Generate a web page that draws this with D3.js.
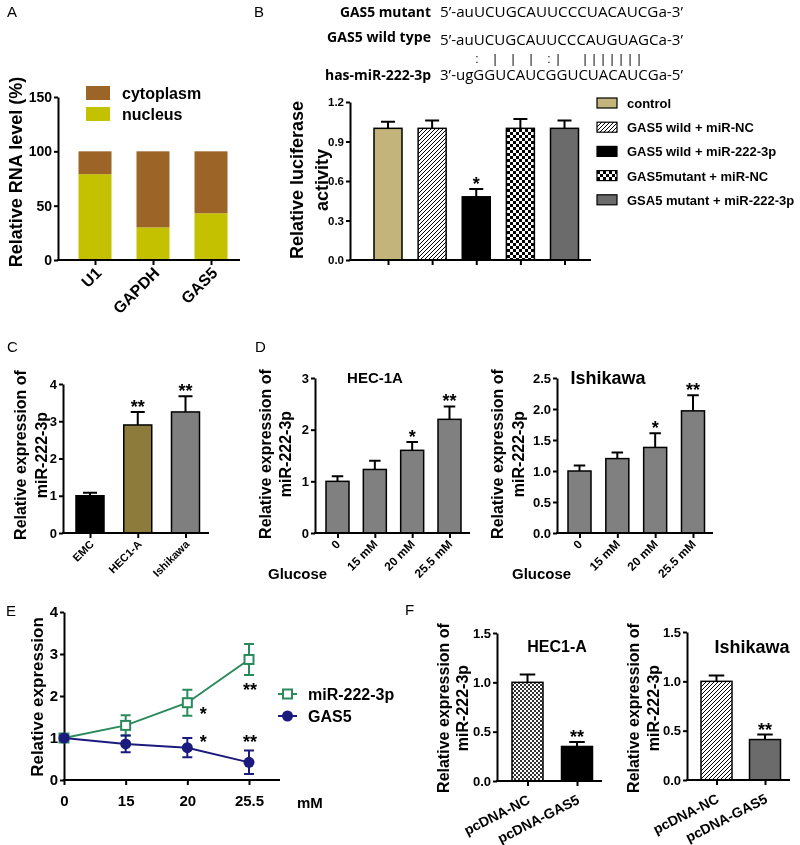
<!DOCTYPE html>
<html>
<head>
<meta charset="utf-8">
<title>GAS5 / miR-222-3p</title>
<script src="https://cdnjs.cloudflare.com/ajax/libs/d3/7.8.5/d3.min.js"></script>
<style>
body { margin: 0; background: #fff; }
svg { display: block; font-family: "Liberation Sans", Arial, sans-serif; will-change: transform; }
.axis path, .axis line { stroke: #000; stroke-width: 2px; }
.axis text { font-weight: bold; fill: #000; font-family: "Liberation Sans", Arial, sans-serif; }
.plabel { font-size: 15px; }
.bold { font-weight: bold; }
.seq { font-family: "Open Sans", "Noto Sans", sans-serif; font-size: 14px; }
</style>
</head>
<body>
<script>
// ---- data ----
// A: subcellular fractions (%)
var aGenes = ["U1", "GAPDH", "GAS5"];
var aNucleus = [79, 30, 43];
var aCytoplasm = [21, 70, 57];

// B: luciferase
var bGroups = ["control", "GAS5 wild + miR-NC", "GAS5 wild + miR-222-3p", "GAS5mutant + miR-NC", "GSA5 mutant + miR-222-3p"];
var bValues = [1.0, 1.0, 0.48, 1.0, 1.0];
var bErrors = [0.05, 0.06, 0.06, 0.07, 0.06];
var bStars = ["", "", "*", "", ""];
var seqNames = ["GAS5 mutant", "GAS5 wild type", "has-miR-222-3p"];
var seqs = ["5\u2019-auUCUGCAUUCCCUACAUCGa-3\u2019", "5\u2019-auUCUGCAUUCCCAUGUAGCa-3\u2019", "3\u2019-ugGGUCAUCGGUCUACAUCGa-5\u2019"];
// pairing marks, one character per sequence position
var pairLine = "    : | | | :|  |||||||";

// C: cell lines
var cCells = ["EMC", "HEC1-A", "Ishikawa"];
var cValues = [1.0, 2.9, 3.25];
var cErrors = [0.08, 0.35, 0.42];
var cStars = ["", "**", "**"];

// D: glucose
var glucose = ["0", "15 mM", "20 mM", "25.5 mM"];
var dHecValues = [1.0, 1.23, 1.6, 2.2];
var dHecErrors = [0.1, 0.17, 0.16, 0.25];
var dIshValues = [1.0, 1.2, 1.38, 1.97];
var dIshErrors = [0.09, 0.1, 0.23, 0.25];
var dStars = ["", "", "*", "**"];

// E: expression vs glucose
var eDoses = ["0", "15", "20", "25.5"];
var eMir = [1.0, 1.3, 1.84, 2.87];
var eMirErr = [0.05, 0.24, 0.31, 0.37];
var eGas5 = [1.0, 0.86, 0.77, 0.42];
var eGas5Err = [0.05, 0.2, 0.23, 0.28];
var eMirStars = ["", "", "*", "**"];
var eGas5Stars = ["", "", "*", "**"];

// F: overexpression
var fGroups = ["pcDNA-NC", "pcDNA-GAS5"];
var fHecValues = [1.0, 0.35];
var fHecErrors = [0.08, 0.045];
var fIshValues = [1.0, 0.41];
var fIshErrors = [0.06, 0.05];
var fStars = ["", "**"];

var svg = d3.select("body").append("svg").attr("width", 800).attr("height", 845);
svg.append("rect").attr("width", 800).attr("height", 845).attr("fill", "#fff");
var defs = svg.append("defs");

// fill patterns
var hatch = defs.append("pattern").attr("id", "hatch").attr("patternUnits", "userSpaceOnUse").attr("width", 4).attr("height", 4);
hatch.append("rect").attr("width", 4).attr("height", 4).attr("fill", "#fff");
hatch.append("path").attr("d", "M-1,1L1,-1M0,4L4,0M3,5L5,3").attr("stroke", "#000").attr("stroke-width", 1);

function checker(id, c, col) {
  var p = defs.append("pattern").attr("id", id).attr("patternUnits", "userSpaceOnUse").attr("width", 2 * c).attr("height", 2 * c);
  p.append("rect").attr("width", 2 * c).attr("height", 2 * c).attr("fill", "#fff");
  p.append("rect").attr("width", c).attr("height", c).attr("fill", col);
  p.append("rect").attr("x", c).attr("y", c).attr("width", c).attr("height", c).attr("fill", col);
}
checker("check", 3, "#000");
checker("fine", 2, "#333");

function panelLetter(t, x, y) {
  svg.append("text").attr("class", "plabel").attr("x", x).attr("y", y).text(t);
}

function yLabel(lines, xs, cy, size) {
  lines.forEach(function(t, i) {
    svg.append("text")
      .attr("transform", "translate(" + xs[i] + "," + cy + ") rotate(-90)")
      .attr("text-anchor", "middle").attr("dy", "0.35em")
      .attr("class", "bold").style("font-size", size + "px")
      .text(t);
  });
}

function barPanel(o) {
  var g = svg.append("g");
  var y = d3.scaleLinear().domain([0, o.max]).range([o.base, o.top]);
  var x = d3.scalePoint().domain(o.cats).range(o.centers);

  if (o.values) {
    g.selectAll(".bar").data(o.values).join("rect")
      .attr("x", function(d, i) { return x(o.cats[i]) - o.bw / 2; })
      .attr("y", function(d) { return y(d); })
      .attr("width", o.bw)
      .attr("height", function(d) { return o.base - y(d); })
      .attr("fill", function(d, i) { return o.fills[i]; })
      .attr("stroke", "#000").attr("stroke-width", 1.5);

    // upper error bars
    o.values.forEach(function(v, i) {
      var cx = x(o.cats[i]), yt = y(v + o.errors[i]);
      g.append("path")
        .attr("d", "M" + cx + "," + y(v) + "V" + yt + "M" + (cx - o.bw / 4) + "," + yt + "H" + (cx + o.bw / 4))
        .attr("stroke", "#000").attr("stroke-width", 2).attr("fill", "none");
      if (o.stars && o.stars[i]) {
        g.append("text").attr("x", cx).attr("y", yt + 1)
          .attr("text-anchor", "middle").attr("class", "bold").style("font-size", "18px")
          .text(o.stars[i]);
      }
    });
  }

  var ya = g.append("g").attr("class", "axis").attr("transform", "translate(" + o.x0 + ",0)")
    .call(d3.axisLeft(y).tickValues(o.ticks).tickFormat(o.fmt).tickSize(4).tickSizeOuter(0).tickPadding(2));
  ya.selectAll("text").style("font-size", o.tickFont + "px");

  var xa = g.append("g").attr("class", "axis").attr("transform", "translate(0," + o.base + ")")
    .call(d3.axisBottom(x).tickSize(5).tickSizeOuter(0));
  xa.select(".domain").attr("d", "M" + (o.x0 - 1) + ",0H" + o.x1);
  if (o.labRot === null) {
    xa.selectAll(".tick text").remove();
  } else {
    xa.selectAll(".tick text")
      .attr("x", 0).attr("y", 0).attr("dy", 0)
      .attr("text-anchor", "end")
      .attr("transform", "translate(" + o.labDx + "," + o.labDy + ") rotate(" + o.labRot + ")")
      .style("font-size", o.labFont + "px");
  }
  return { x: x, y: y, g: g };
}

// ---------- A ----------
panelLetter("A", 7, 17);
var aRows = aGenes.map(function(gn, i) { return { gene: gn, nucleus: aNucleus[i], cytoplasm: aCytoplasm[i] }; });
var aStack = d3.stack().keys(["nucleus", "cytoplasm"])(aRows);
var aColors = { nucleus: "#C4C200", cytoplasm: "#9C6426" };
var A = barPanel({ cats: aGenes, x0: 58, x1: 240, base: 260, top: 97, max: 150,
  ticks: [0, 50, 100, 150], fmt: d3.format("d"), centers: [95, 211], bw: 33, tickFont: 14,
  labRot: -45, labDx: 7, labDy: 14, labFont: 16 });
A.g.selectAll(".layer").data(aStack).join("g").attr("fill", function(d) { return aColors[d.key]; })
  .selectAll("rect").data(function(d) { return d; }).join("rect")
  .attr("x", function(d) { return A.x(d.data.gene) - 16.5; })
  .attr("y", function(d) { return A.y(d[1]); })
  .attr("width", 33)
  .attr("height", function(d) { return A.y(d[0]) - A.y(d[1]); });
A.g.selectAll(".axis").raise();
yLabel(["Relative RNA level (%)"], [16], 172, 18);
var aLeg = svg.append("g");
["cytoplasm", "nucleus"].forEach(function(k, i) {
  aLeg.append("rect").attr("x", 86).attr("y", 86 + i * 21).attr("width", 24).attr("height", 14).attr("fill", aColors[k]);
  aLeg.append("text").attr("x", 122).attr("y", 99 + i * 21).attr("class", "bold").style("font-size", "16px").text(k);
});

// ---------- B ----------
panelLetter("B", 254, 17);
var seqG = svg.append("g");
var seqStart = 440, charW = 9;
var seqY = [17, 45, 80];
var labY = [17, 42, 80];
var labW = [91, 104, 106];
seqNames.forEach(function(nm, i) {
  seqG.append("text").attr("class", "seq bold").attr("x", 431).attr("y", labY[i]).attr("text-anchor", "end")
    .attr("textLength", labW[i]).attr("lengthAdjust", "spacingAndGlyphs").text(nm);
  seqG.append("text").attr("class", "seq").attr("x", seqStart).attr("y", seqY[i])
    .attr("textLength", seqs[i].length * charW).attr("lengthAdjust", "spacingAndGlyphs").text(seqs[i]);
});
pairLine.split("").forEach(function(m, i) {
  if (m === " ") return;
  seqG.append("text").attr("x", seqStart + i * charW + 1).attr("y", 63)
    .attr("text-anchor", "middle").style("font-size", "12px").text(m);
});

var bFills = ["#C3B47B", "url(#hatch)", "#000", "url(#check)", "#6B6B6B"];
barPanel({ cats: bGroups, values: bValues, errors: bErrors, stars: bStars, fills: bFills,
  x0: 350, x1: 591, base: 260, top: 102, max: 1.2, ticks: [0, 0.3, 0.6, 0.9, 1.2], fmt: d3.format(".1f"),
  centers: [388, 564.5], bw: 28, tickFont: 11.5, labRot: null });
yLabel(["Relative luciferase", "activity"], [297, 322], 180, 18);
var bLeg = svg.append("g");
bGroups.forEach(function(k, i) {
  var cy = 103 + i * 24.2;
  bLeg.append("rect").attr("x", 597).attr("y", cy - 5).attr("width", 20).attr("height", 10)
    .attr("fill", bFills[i]).attr("stroke", "#000").attr("stroke-width", 1.2);
  bLeg.append("text").attr("x", 627).attr("y", cy + 5).attr("class", "bold").style("font-size", "13px").text(k);
});

// ---------- C ----------
panelLetter("C", 7, 352);
barPanel({ cats: cCells, values: cValues, errors: cErrors, stars: cStars, fills: ["#000", "#8C7B3A", "#7F7F7F"],
  x0: 63, x1: 209, base: 533, top: 384, max: 4, ticks: [0, 1, 2, 3, 4], fmt: d3.format("d"),
  centers: [90, 185.5], bw: 28, tickFont: 13, labRot: -45, labDx: 4, labDy: 12, labFont: 11 });
yLabel(["Relative expression of", "miR-222-3p"], [20, 41], 455, 16);

// ---------- D ----------
panelLetter("D", 255, 352);
barPanel({ cats: glucose, values: dHecValues, errors: dHecErrors, stars: dStars, fills: ["#808080", "#808080", "#808080", "#808080"],
  x0: 315, x1: 470, base: 533, top: 378, max: 3, ticks: [0, 1, 2, 3], fmt: d3.format("d"),
  centers: [337.5, 449.5], bw: 23, tickFont: 13, labRot: -45, labDx: 3, labDy: 12, labFont: 12 });
yLabel(["Relative expression of", "miR-222-3p"], [265, 285], 454, 16);
svg.append("text").attr("x", 375).attr("y", 383).attr("text-anchor", "middle").attr("class", "bold").style("font-size", "15px").text("HEC-1A");
svg.append("text").attr("x", 268).attr("y", 579).attr("class", "bold").style("font-size", "15px").text("Glucose");

barPanel({ cats: glucose, values: dIshValues, errors: dIshErrors, stars: dStars, fills: ["#808080", "#808080", "#808080", "#808080"],
  x0: 557, x1: 713, base: 533, top: 378, max: 2.5, ticks: [0, 0.5, 1, 1.5, 2, 2.5], fmt: d3.format(".1f"),
  centers: [579.5, 693], bw: 23, tickFont: 13, labRot: -45, labDx: 3, labDy: 12, labFont: 12 });
yLabel(["Relative expression of", "miR-222-3p"], [497, 518], 454, 16);
svg.append("text").attr("x", 608).attr("y", 384).attr("text-anchor", "middle").attr("class", "bold").style("font-size", "18px").text("Ishikawa");
svg.append("text").attr("x", 512).attr("y", 579).attr("class", "bold").style("font-size", "15px").text("Glucose");

// ---------- E ----------
panelLetter("E", 6, 616);
var eg = svg.append("g");
var ex = d3.scalePoint().domain(eDoses).range([64, 249]);
var ey = d3.scaleLinear().domain([0, 4]).range([780, 612]);
var eGreen = "#2A8A5C", eNavy = "#1B1B7E";

var eya = eg.append("g").attr("class", "axis").attr("transform", "translate(64,0)")
  .call(d3.axisLeft(ey).ticks(4).tickFormat(d3.format("d")).tickSize(4).tickSizeOuter(0).tickPadding(2));
eya.selectAll("text").style("font-size", "15px");
var exa = eg.append("g").attr("class", "axis").attr("transform", "translate(0,780)")
  .call(d3.axisBottom(ex).tickSize(5).tickSizeOuter(0).tickPadding(10));
exa.select(".domain").attr("d", "M63,0H280");
exa.selectAll("text").style("font-size", "15px");
eg.append("text").attr("x", 297).attr("y", 808).attr("class", "bold").style("font-size", "15px").text("mM");

function eSeries(vals, errs, col, marker) {
  var line = d3.line().x(function(d, i) { return ex(eDoses[i]); }).y(function(d) { return ey(d); });
  eg.append("path").datum(vals).attr("d", line).attr("fill", "none").attr("stroke", col).attr("stroke-width", 2);
  vals.forEach(function(v, i) {
    var cx = ex(eDoses[i]);
    eg.append("path")
      .attr("d", "M" + cx + "," + ey(v - errs[i]) + "V" + ey(v + errs[i]) +
        "M" + (cx - 5) + "," + ey(v - errs[i]) + "H" + (cx + 5) +
        "M" + (cx - 5) + "," + ey(v + errs[i]) + "H" + (cx + 5))
      .attr("stroke", col).attr("stroke-width", 2).attr("fill", "none");
    marker(cx, ey(v));
  });
}
function sq(cx, cy) {
  eg.append("rect").attr("x", cx - 4.5).attr("y", cy - 4.5).attr("width", 9).attr("height", 9)
    .attr("fill", "#fff").attr("stroke", eGreen).attr("stroke-width", 2);
}
function dot(cx, cy) {
  eg.append("circle").attr("cx", cx).attr("cy", cy).attr("r", 5.5).attr("fill", eNavy);
}
eSeries(eMir, eMirErr, eGreen, sq);
eSeries(eGas5, eGas5Err, eNavy, dot);

// significance marks: beside the 20 mM point, under the 25.5 mM point
var starDx = [0, 0, 16, 1];
var mirStarDy = [0, 0, 17, 37];
eMirStars.forEach(function(s, i) {
  if (!s) return;
  eg.append("text").attr("x", ex(eDoses[i]) + starDx[i]).attr("y", ey(eMir[i]) + mirStarDy[i])
    .attr("text-anchor", "middle").attr("class", "bold").style("font-size", "18px").text(s);
});
// GAS5 marks sit at the control level
eGas5Stars.forEach(function(s, i) {
  if (!s) return;
  eg.append("text").attr("x", ex(eDoses[i]) + starDx[i]).attr("y", ey(eGas5[0]) + 10)
    .attr("text-anchor", "middle").attr("class", "bold").style("font-size", "18px").text(s);
});
yLabel(["Relative expression"], [37], 697, 17);

// legend
[["miR-222-3p", eGreen, sq], ["GAS5", eNavy, dot]].forEach(function(r, i) {
  var cy = 694 + i * 22;
  eg.append("line").attr("x1", 278).attr("x2", 297).attr("y1", cy).attr("y2", cy).attr("stroke", r[1]).attr("stroke-width", 2);
  r[2](287.5, cy);
  eg.append("text").attr("x", 308).attr("y", cy + 6).attr("class", "bold").style("font-size", "16px").text(r[0]);
});

// ---------- F ----------
panelLetter("F", 405, 615);
barPanel({ cats: fGroups, values: fHecValues, errors: fHecErrors, stars: fStars, fills: ["url(#fine)", "#000"],
  x0: 497, x1: 602, base: 781, top: 633, max: 1.5, ticks: [0, 0.5, 1, 1.5], fmt: d3.format(".1f"),
  centers: [527.5, 577], bw: 31, tickFont: 13, labRot: -27, labDx: 3, labDy: 22, labFont: 14 });
yLabel(["Relative expression of", "miR-222-3p"], [443, 462], 708, 16);
svg.append("text").attr("x", 557).attr("y", 652).attr("text-anchor", "middle").attr("class", "bold").style("font-size", "16px").text("HEC1-A");

barPanel({ cats: fGroups, values: fIshValues, errors: fIshErrors, stars: fStars, fills: ["url(#hatch)", "#6B6B6B"],
  x0: 687, x1: 790, base: 780, top: 632, max: 1.5, ticks: [0, 0.5, 1, 1.5], fmt: d3.format(".1f"),
  centers: [716.5, 765], bw: 31, tickFont: 13, labRot: -27, labDx: 3, labDy: 22, labFont: 14 });
yLabel(["Relative expression of", "miR-222-3p"], [633, 653], 708, 16);
svg.append("text").attr("x", 752).attr("y", 653).attr("text-anchor", "middle").attr("class", "bold").style("font-size", "18px").text("Ishikawa");
</script>
</body>
</html>
